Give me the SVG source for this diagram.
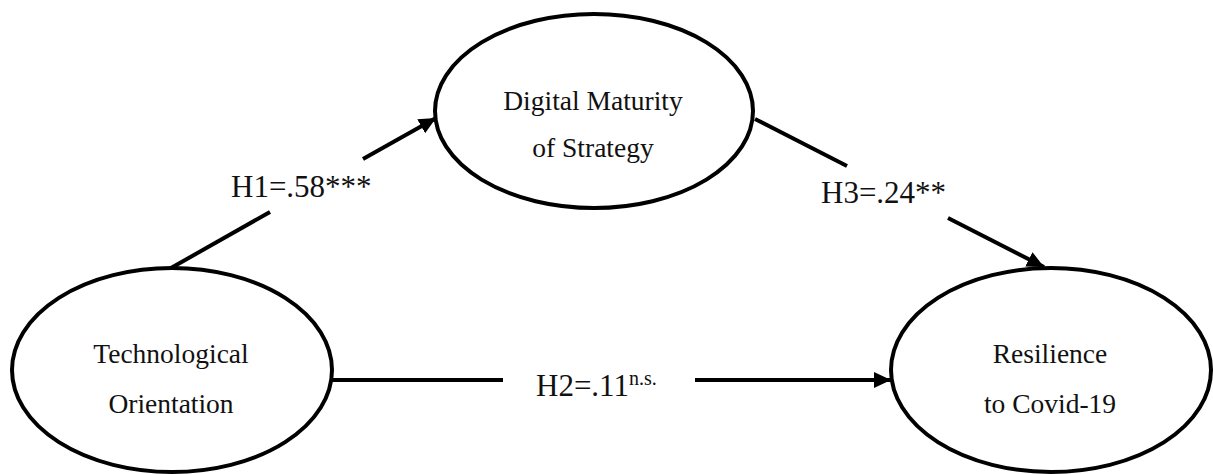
<svg xmlns="http://www.w3.org/2000/svg" width="1213" height="474" viewBox="0 0 1213 474">
<style>
.node{fill:#fff;stroke:#000;stroke-width:4}
.nt{font-family:"Liberation Serif","Times New Roman",serif;font-size:27.5px;fill:#111;text-anchor:middle}
.lb{font-family:"Liberation Serif","Times New Roman",serif;font-size:31px;fill:#111}
.sup{font-size:20px}
.edge{stroke:#000;stroke-width:4;fill:none}
</style>
<defs>
<marker id="arr" markerUnits="userSpaceOnUse" markerWidth="18" markerHeight="16" refX="17" refY="8" orient="auto">
<path d="M0,0 L17,8 L0,16 z" fill="#000"/>
</marker>
</defs>
<g id="connectors">
<line class="edge" x1="171" y1="268" x2="270" y2="212"/>
<line class="edge" x1="363" y1="159" x2="436" y2="118" marker-end="url(#arr)"/>
<line class="edge" x1="755" y1="119" x2="847" y2="166"/>
<line class="edge" x1="948" y1="218" x2="1044" y2="267" marker-end="url(#arr)"/>
<line class="edge" x1="332" y1="380" x2="503" y2="380"/>
<line class="edge" x1="695" y1="380" x2="891" y2="380" marker-end="url(#arr)"/>
<text class="lb" x="231" y="197">H1=.58***</text>
<text class="lb" x="821" y="203">H3=.24**</text>
<text class="lb" x="536" y="396">H2=.11<tspan class="sup" dy="-11">n.s.</tspan></text>
</g>
<g id="node-digital">
<ellipse class="node" cx="594" cy="111" rx="159" ry="97"/>
<text class="nt" x="593" y="110">Digital Maturity</text>
<text class="nt" x="593" y="157">of Strategy</text>
</g>
<g id="node-tech">
<ellipse class="node" cx="172" cy="370" rx="160" ry="102"/>
<text class="nt" x="171" y="363">Technological</text>
<text class="nt" x="171" y="413">Orientation</text>
</g>
<g id="node-resilience">
<ellipse class="node" cx="1051" cy="370" rx="160" ry="102"/>
<text class="nt" x="1050" y="363">Resilience</text>
<text class="nt" x="1050" y="413">to Covid-19</text>
</g>
</svg>
